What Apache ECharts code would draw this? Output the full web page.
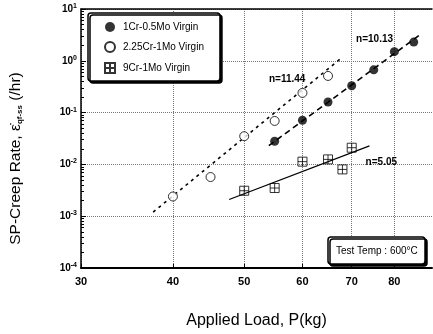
<!DOCTYPE html>
<html>
<head>
<meta charset="UTF-8">
<title>SP-Creep Rate</title>
<script src="https://cdn.jsdelivr.net/npm/echarts@6/dist/echarts.min.js"></script>
</head>
<body style="margin:0">
<div id="main" style="width:433px;height:334px;"></div>
<script>
// data
var load1 = [55, 60, 65, 70, 75, 80, 85];
var rate1 = [0.028, 0.071, 0.16, 0.33, 0.67, 1.5, 2.3];
var load2 = [40, 45, 50, 55, 60, 65];
var rate2 = [0.0024, 0.0057, 0.035, 0.069, 0.24, 0.51];
var load3 = [50, 55, 60, 65, 68, 70];
var rate3 = [0.0031, 0.0035, 0.0113, 0.0125, 0.008, 0.021];

// fitted lines (end points)
var fit1Load = [54, 87], fit1Rate = [0.023, 3.3];
var fit2Load = [37.6, 67.5], fit2Rate = [0.0012, 1.08];
var fit3Load = [47.7, 74], fit3Rate = [0.0021, 0.0228];

var names = ['1Cr-0.5Mo Virgin', '2.25Cr-1Mo Virgin', '9Cr-1Mo Virgin'];
var nLabels = ['n=10.13', 'n=11.44', 'n=5.05'];
var nLabelAt = [[75.2, 2.6], [57.2, 0.44], [76.8, 0.0112]];

var xTicks = [30, 40, 50, 60, 70, 80];
var yMinor = [];
for (var e = -4; e < 1; e++) {
  for (var m = 2; m <= 9; m++) yMinor.push(m * Math.pow(10, e));
}

function pairs(xs, ys) {
  return xs.map(function (x, i) { return [x, ys[i]]; });
}

var sqPlus = 'path://M0,0H10V10H0Z M5,0V10 M0,5H10';
var font = 'Liberation Sans';

var myChart = echarts.init(document.getElementById('main'));

function nMark(i) {
  return {
    symbol: 'circle', symbolSize: 0,
    label: { show: true, position: 'inside', formatter: nLabels[i], color: '#000', fontSize: 10, fontWeight: 'bold', fontFamily: font },
    data: [{ coord: nLabelAt[i] }]
  };
}

var option = {
  animation: false,
  textStyle: { fontFamily: font },
  grid: { left: 81, right: 1, top: 9, bottom: 64 },
  xAxis: [{
    type: 'log', logBase: 10, min: 30, max: 90,
    name: 'Applied Load, P(kg)', nameLocation: 'middle', nameGap: 45,
    nameTextStyle: { fontSize: 16, color: '#000', fontFamily: font },
    axisLine: { lineStyle: { color: '#000', width: 2 } },
    axisTick: { inside: true, length: 4, customValues: xTicks, lineStyle: { color: '#000' } },
    axisLabel: { customValues: xTicks, color: '#000', fontSize: 11, fontWeight: 'bold', margin: 8, formatter: function (v) { return Math.round(v); } },
    splitLine: { show: true, lineStyle: { type: 'dotted', color: '#777', width: 1 } }
  }, {
    type: 'log', logBase: 10, min: 30, max: 90, position: 'top',
    axisLine: { show: true, lineStyle: { color: '#000', width: 1.5 } },
    axisTick: { show: false }, axisLabel: { show: false }, splitLine: { show: false }
  }],
  yAxis: [{
    type: 'log', logBase: 10, min: 0.0001, max: 10, interval: 1,
    name: '{n|SP-Creep Rate, ε̇}{s|qf-ss}{n| (/hr)}', nameLocation: 'middle', nameGap: 57,
    nameTextStyle: {
      padding: [0, 40, 0, 0],
      rich: {
        n: { fontSize: 15.5, color: '#000', fontFamily: font },
        s: { fontSize: 8, color: '#000', fontWeight: 'bold', fontFamily: font, verticalAlign: 'bottom', padding: [7, 0, 0, 0] }
      }
    },
    axisLine: { show: true, lineStyle: { color: '#000', width: 1.5 } },
    axisTick: { show: true, inside: true, length: 5, lineStyle: { color: '#000' } },
    axisLabel: {
      color: '#000', margin: 4,
      formatter: function (v) {
        var p = Math.round(Math.log10(v));
        return '{b|10}{e|' + p + '}';
      },
      rich: {
        b: { fontSize: 10, fontWeight: 'bold', color: '#000', fontFamily: font },
        e: { fontSize: 7, fontWeight: 'bold', color: '#000', fontFamily: font, verticalAlign: 'top', padding: [0, 0, 6, 0] }
      }
    },
    splitLine: { show: true, lineStyle: { type: 'dotted', color: '#777', width: 1 } }
  }, {
    type: 'log', logBase: 10, min: 0.0001, max: 10, position: 'left',
    axisLine: { show: false },
    axisTick: { show: true, inside: true, length: 3, customValues: yMinor, lineStyle: { color: '#000' } },
    axisLabel: { show: false }, splitLine: { show: false }
  }],
  legend: {
    orient: 'vertical', left: 88, top: 13,
    padding: [9, 16, 7, 16], itemGap: 9, itemWidth: 16, itemHeight: 10,
    backgroundColor: '#fff', borderColor: '#000', borderWidth: 1.5, borderRadius: 3,
    shadowColor: '#000', shadowOffsetX: 2, shadowOffsetY: 2, shadowBlur: 0,
    textStyle: { fontSize: 10, color: '#000', fontFamily: font },
    data: [
      { name: names[0], icon: 'circle' },
      { name: names[1], icon: 'circle' },
      { name: names[2], icon: sqPlus }
    ]
  },
  title: {
    text: 'Test Temp : 600°C', left: 328, top: 237,
    padding: [9, 7, 8, 8],
    backgroundColor: '#fff', borderColor: '#000', borderWidth: 1.5, borderRadius: 3,
    shadowColor: '#000', shadowOffsetX: 2, shadowOffsetY: 2, shadowBlur: 0,
    textStyle: { fontSize: 10, fontWeight: 'normal', color: '#000', fontFamily: font }
  },
  series: [{
    name: names[0], type: 'scatter', symbol: 'circle', symbolSize: 9,
    itemStyle: { color: '#000' }, data: pairs(load1, rate1), z: 5
  }, {
    name: names[1], type: 'scatter', symbol: 'circle', symbolSize: 9,
    itemStyle: { color: '#fff', borderColor: '#000', borderWidth: 1 }, data: pairs(load2, rate2), z: 5
  }, {
    name: names[2], type: 'scatter', symbol: sqPlus, symbolSize: 9,
    itemStyle: { color: 'rgba(0,0,0,0)', borderColor: '#000', borderWidth: 1 }, data: pairs(load3, rate3), z: 5
  }, {
    type: 'line', data: pairs(fit1Load, fit1Rate), symbol: 'none',
    lineStyle: { color: '#000', width: 1.6, type: [6, 4] }, markPoint: nMark(0)
  }, {
    type: 'line', data: pairs(fit2Load, fit2Rate), symbol: 'none',
    lineStyle: { color: '#000', width: 1.6, type: [3, 4] }, markPoint: nMark(1)
  }, {
    type: 'line', data: pairs(fit3Load, fit3Rate), symbol: 'none',
    lineStyle: { color: '#000', width: 1.2 }, markPoint: nMark(2)
  }]
};

myChart.setOption(option);
</script>
</body>
</html>
